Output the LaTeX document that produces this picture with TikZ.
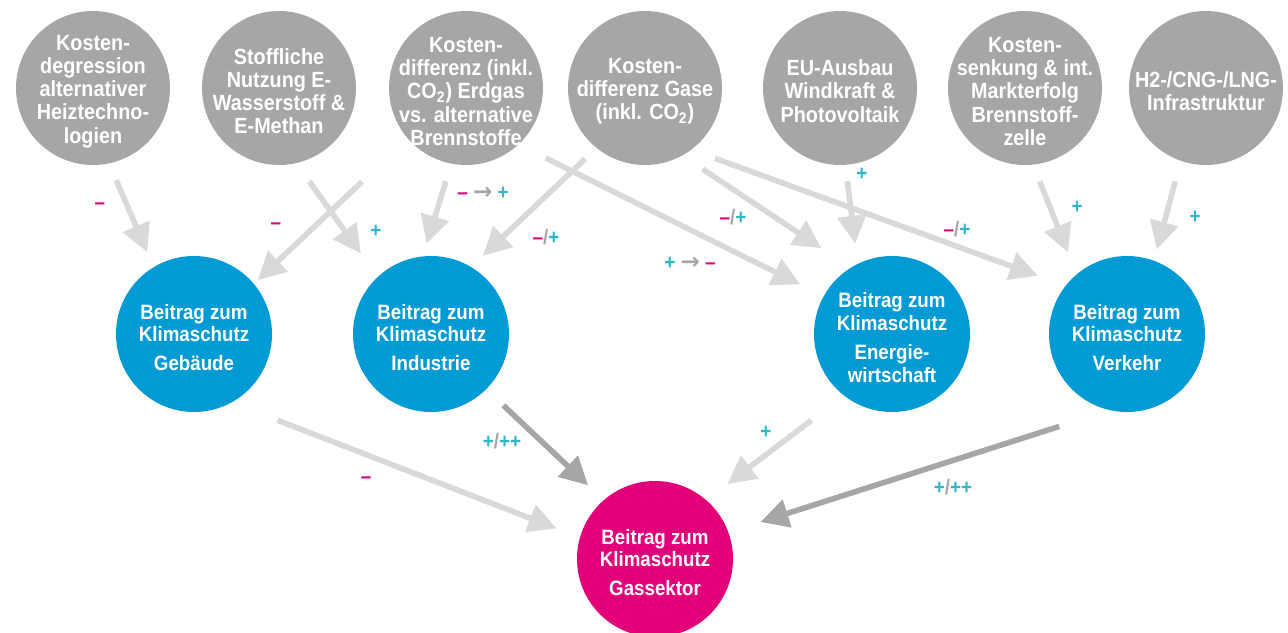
\documentclass[tikz,border=0pt]{standalone}
\usepackage{fontspec}
\setmainfont{Liberation Sans}[FakeStretch=0.9]
\newfontfamily\pfeilfont{DejaVu Sans}
\usepackage{xcolor}
\usetikzlibrary{arrows.meta}

\definecolor{kreisgrau}{RGB}{166,166,166}
\definecolor{kreisblau}{RGB}{0,155,212}
\definecolor{kreismagenta}{RGB}{226,0,122}
\definecolor{pfeilhell}{RGB}{217,217,217}
\definecolor{pfeildunkel}{RGB}{166,166,166}
\definecolor{plustuerkis}{RGB}{49,181,201}

\newcommand{\mn}{\textcolor{kreismagenta}{--}}
\newcommand{\pl}{\textcolor{plustuerkis}{+}}
\newcommand{\strich}{\textcolor{pfeildunkel}{/}}
\newcommand{\pf}{\textcolor{pfeildunkel}{\pfeilfont\bfseries\fontsize{11.5}{11.5}\selectfont →}}

\tikzset{
  faktor/.style={circle, fill=kreisgrau, text=white, minimum size=77pt, inner sep=-30pt,
    align=center, font=\bfseries\fontsize{11}{11.6}\selectfont},
  beitrag/.style={faktor, fill=kreisblau, minimum size=78pt, font=\bfseries\fontsize{10.4}{11.2}\selectfont},
  gas/.style={beitrag, fill=kreismagenta},
  hell/.style={draw=pfeilhell, line width=2.8pt, -{Triangle[length=14pt,width=14pt]}},
  dunkel/.style={hell, draw=pfeildunkel},
  wert/.style={inner sep=0pt, font=\bfseries\fontsize{10.5}{11}\selectfont}
}

\begin{document}
\begin{tikzpicture}[x=0.5pt, y=-0.5pt]
        \useasboundingbox (0,0) rectangle (1288,632);
        % Einflussfaktoren
        \node [faktor] (kostdeg)  at (93,88)   {\rule{0pt}{11pt}Kosten-\\degression\\alternativer\\Heiztechno-\\logien};
        \node [faktor] (stoff)    at (279,88)  {\rule{0pt}{11pt}Stoffliche\\Nutzung E-\\Wasserstoff \&\\E-Methan};
        \node [faktor] (kostdiff) at (466,88)  {\rule{0pt}{11pt}Kosten-\\differenz (inkl.\\CO\textsubscript{2}) Erdgas\\vs. alternative\\Brennstoffe};
        \node [faktor] (gase)     at (645,88)  {\rule{0pt}{11pt}Kosten-\\differenz Gase\\(inkl. CO\textsubscript{2})};
        \node [faktor] (eeausbau) at (840,88)  {\rule{0pt}{11pt}EU-Ausbau\\Windkraft \&\\Photovoltaik};
        \node [faktor] (brennz)   at (1025,88) {\rule{0pt}{11pt}Kosten-\\senkung \& int.\\Markterfolg\\Brennstoff-\\zelle};
        \node [faktor] (infra)    at (1206,88) {\rule{0pt}{11pt}H2-/CNG-/LNG-\\Infrastruktur};
        % Sektoren
        \node [beitrag] (gebaeude)  at (194,334)  {\rule{0pt}{11pt}Beitrag zum\\Klimaschutz\\[3.5pt]Gebäude};
        \node [beitrag] (industrie) at (431,334)  {\rule{0pt}{11pt}Beitrag zum\\Klimaschutz\\[3.5pt]Industrie};
        \node [beitrag] (energie)   at (892,334)  {\rule{0pt}{11pt}Beitrag zum\\Klimaschutz\\[3.5pt]Energie-\\wirtschaft};
        \node [beitrag] (verkehr)   at (1127,334) {\rule{0pt}{11pt}Beitrag zum\\Klimaschutz\\[3.5pt]Verkehr};
        \node [gas]     (gassektor) at (655,559)  {\rule{0pt}{11pt}Beitrag zum\\Klimaschutz\\[3.5pt]Gassektor};

        % Wirkungen auf die Sektoren
        \draw [hell, shorten <=9pt,    shorten >=8pt]    (kostdeg.-78)   -- (gebaeude.121);  %
        \draw [hell, shorten <=11pt,   shorten >=14.3pt] (stoff.-77)     -- (industrie.133); %
        \draw [hell, shorten <=31.3pt, shorten >=2.5pt]  (kostdiff.-139) -- (gebaeude.40);   %
        \draw [hell, shorten <=9pt,    shorten >=6.5pt]  (kostdiff.-101) -- (industrie.96);  %
        \draw [hell, shorten <=7.7pt,  shorten >=8pt]    (gase.-129)     -- (industrie.59);  %
        \draw [hell, shorten <=15pt,   shorten >=13pt]   (kostdiff.-47)  -- (energie.151);   %
        \draw [hell, shorten <=12pt,   shorten >=17.5pt] (gase.-61)      -- (energie.122);   %
        \draw [hell, shorten <=8pt,    shorten >=10pt]   (eeausbau.-86)  -- (energie.116);   %
        \draw [hell, shorten <=12.5pt, shorten >=14.6pt] (gase.-53)      -- (verkehr.142);   %
        \draw [hell, shorten <=8.8pt,  shorten >=11.6pt] (brennz.-84.5)  -- (verkehr.130);   %
        \draw [hell, shorten <=10.5pt, shorten >=5.6pt]  (infra.-109)    -- (verkehr.70);    %
        % Wirkungen auf den Gassektor
        \draw [hell,   shorten <=24.4pt, shorten >=12.4pt] (gebaeude.-61)  -- (gassektor.164);   %
        \draw [dunkel, shorten <=11.6pt, shorten >=10.6pt] (industrie.-45) -- (gassektor.131.5); %
        \draw [hell,   shorten <=20.2pt, shorten >=13.2pt] (energie.-128)  -- (gassektor.49);    %
        \draw [dunkel, shorten <=26.3pt, shorten >=16.7pt] (verkehr.-103)  -- (gassektor.20);    %

        % Vorzeichen
        \node [wert] (w1)  at (100,206)  {\mn};
        \node [wert] (w2)  at (376,231)  {\pl};
        \node [wert] (w3)  at (276,226)  {\mn};
        \node [wert] (w4)  at (483,193)  {\mn\ \pf\ \pl};
        \node [wert] (w5)  at (546,237)  {\mn\strich\pl};
        \node [wert] (w6)  at (690,263)  {\pl\ \pf\ \mn};
        \node [wert] (w7)  at (733,217)  {\mn\strich\pl};
        \node [wert] (w8)  at (862,174)  {\pl};
        \node [wert] (w9)  at (957,229)  {\mn\strich\pl};
        \node [wert] (w10) at (1077,207) {\pl};
        \node [wert] (w11) at (1195,217) {\pl};
        \node [wert] (w12) at (366,480)  {\mn};
        \node [wert] (w13) at (502,441)  {\pl\strich\pl\pl};
        \node [wert] (w14) at (766,432)  {\pl};
        \node [wert] (w15) at (953,487)  {\pl\strich\pl\pl};
\end{tikzpicture}
\end{document}
